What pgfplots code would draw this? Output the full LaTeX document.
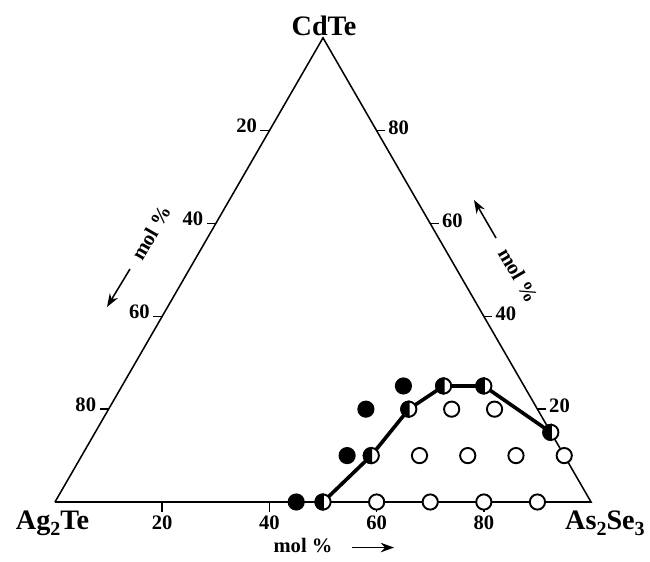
\documentclass[border=0pt]{standalone}
\usepackage{pgfplots}
\pgfplotsset{compat=1.18}
\usepackage{pgfplotstable}
\usepackage{fontspec}
\setmainfont{Liberation Serif}
\usetikzlibrary{arrows.meta}

% a: As2Se3 mol %, c: CdTe mol %
\pgfplotstableread{
a    c
45   0
49.5 10
48   20
52.5 25
}\filled
\pgfplotstableread{
a    c
50   0
54   10
56   20
60   25
67.5 25
85   15
}\half
\pgfplotstableread{
a    c
60   0
70   0
80   0
90   0
63   10
72   10
81   10
90   10
64   20
72   20
}\open

\pgfdeclareplotmark{lefthalf}{%
  \pgfpathcircle{\pgfpointorigin}{\pgfplotmarksize}%
  \pgfsetfillcolor{white}\pgfusepathqfillstroke
  \pgfpathmoveto{\pgfqpoint{0pt}{\pgfplotmarksize}}%
  \pgfpatharc{90}{270}{\pgfplotmarksize}%
  \pgfpathclose
  \pgfsetfillcolor{black}\pgfusepathqfillstroke
}

\newcommand{\tk}{\fontsize{10.8}{12}\selectfont\bfseries}
\newcommand{\vx}{\fontsize{14.8}{16}\selectfont\bfseries}
\newcommand{\sub}[1]{\raisebox{-0.45ex}{\fontsize{10.5}{12}\selectfont\bfseries #1}}

\begin{document}
\begin{tikzpicture}
\begin{axis}[
    width=12cm, height=10.357cm,
    scale only axis,
    hide axis,
    clip=false,
    xmin=-10.26, xmax=111.0,
    ymin=-11.01, ymax=93.66,
]
\path (rel axis cs:0,0) rectangle (rel axis cs:1,1);

% triangle
\addplot[black, line width=0.8pt] coordinates {(0,0) (100,0) (50,86.6025) (0,0)};

% ticks and labels
\pgfplotsinvokeforeach{20,40,60,80}{
  \draw[line width=0.8pt] (axis cs:{50-#1/2},{0.8660254*(100-#1)}) -- ++(-4.7pt,0pt)
    node[anchor=base east, inner sep=0pt, xshift=-1.5pt, yshift=-1pt] {\tk #1};
  \draw[line width=0.8pt] (axis cs:{100-#1/2},{0.8660254*#1}) -- ++(4.5pt,0pt)
    node[anchor=base west, inner sep=0pt, xshift=1.3pt, yshift=-2pt] {\tk #1};
  \draw[line width=0.8pt] (axis cs:#1,0) -- ++(0pt,-5.3pt);
  \node[anchor=base, inner sep=0pt] at (axis cs:#1,-5.22) {\tk #1};
}

% vertex labels
\node[anchor=base, inner sep=0pt] at (axis cs:50.2,87.1) {\vx CdTe};
\node[anchor=base, inner sep=0pt] at (axis cs:-0.47,-5.22) {\vx Ag\sub{2}Te};
\node[anchor=base, inner sep=0pt] at (axis cs:102.6,-5.22) {\vx As\sub{2}Se\sub{3}};

% mol % labels and arrows
\node[rotate=60, inner sep=0pt] at (axis cs:17.9,50.2) {\tk mol \%};
\draw[line width=0.8pt, -{Stealth[length=7pt, width=5pt]}] (axis cs:13.99,43.47) -- (axis cs:9.70,36.38);
\node[rotate=-60, inner sep=0pt] at (axis cs:86.4,42.35) {\tk mol \%};
\draw[line width=0.8pt, -{Stealth[length=7pt, width=5pt]}] (axis cs:82.28,49.25) -- (axis cs:78.17,56.34);
\node[anchor=base, inner sep=0pt] at (axis cs:46.27,-9.5) {\tk mol \%};
\draw[line width=0.8pt, -{Stealth[length=7pt, width=5pt]}] (axis cs:55.4,-8.5) -- (axis cs:63.25,-8.5);

% boundary line
\addplot[black, line width=1.9pt, no marks] table[x expr=\thisrow{a}+0.5*\thisrow{c}, y expr=0.8660254*\thisrow{c}] {\half};

% points
\addplot[only marks, mark=*, mark size=4pt, line width=1pt, mark options={draw=black, fill=white}]
  table[x expr=\thisrow{a}+0.5*\thisrow{c}, y expr=0.8660254*\thisrow{c}] {\open};
\addplot[only marks, mark=*, mark size=4pt, line width=1pt, mark options={draw=black, fill=black}]
  table[x expr=\thisrow{a}+0.5*\thisrow{c}, y expr=0.8660254*\thisrow{c}] {\filled};
\addplot[only marks, mark=lefthalf, mark size=4pt, line width=1pt, mark options={draw=black}]
  table[x expr=\thisrow{a}+0.5*\thisrow{c}, y expr=0.8660254*\thisrow{c}] {\half};
\end{axis}
\end{tikzpicture}
\end{document}
